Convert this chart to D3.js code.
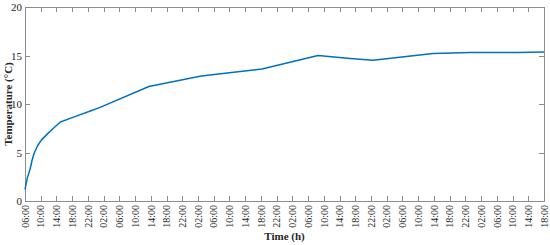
<!DOCTYPE html>
<html>
<head>
<meta charset="utf-8">
<script src="https://cdn.jsdelivr.net/npm/d3@7"></script>
<style>
  html, body { margin: 0; padding: 0; background: #fff; }
  svg { display: block; }
  .axis path, .axis line { stroke: #8c8c8c; shape-rendering: crispEdges; }
  .axis text { font-family: "Liberation Serif", "Times New Roman", serif; fill: #262626; }
</style>
</head>
<body>
<svg id="chart" width="550" height="245"></svg>
<script>
// Elapsed time (hours since 06:00 on day 1) and temperature (°C)
const hours = [0, 0.3, 0.6, 1.0, 1.3, 1.8, 2.3, 3.2, 4.2, 5.9, 7.5, 9.0, 12.7, 16.8, 19.1, 31.5, 44.5, 47, 60.3, 74.5, 82.7, 88.5, 103.8, 113.2, 125.1, 132];
const temps = [1.2, 1.8, 2.4, 2.9, 3.3, 4.2, 4.9, 5.7, 6.3, 7.0, 7.6, 8.15, 8.7, 9.3, 9.65, 11.8, 12.85, 13.0, 13.6, 15.0, 14.7, 14.5, 15.2, 15.3, 15.3, 15.35];

const xTickHours = d3.range(0, 133, 4);
const xTickLabels = ["06:00","10:00","14:00","18:00","22:00","02:00","06:00","10:00","14:00","18:00","22:00","02:00","06:00","10:00","14:00","18:00","22:00","02:00","06:00","10:00","14:00","18:00","22:00","02:00","06:00","10:00","14:00","18:00","22:00","02:00","06:00","10:00","14:00","18:00"];
const yTicks = [0, 5, 10, 15, 20];

const svg = d3.select("#chart");
const m = { left: 25, right: 544, top: 7, bottom: 201 };

const x = d3.scaleLinear().domain([0, 132]).range([m.left, m.right]);
const y = d3.scaleLinear().domain([0, 20]).range([m.bottom, m.top]);

// Box frame
svg.append("rect")
  .attr("x", m.left).attr("y", m.top)
  .attr("width", m.right - m.left).attr("height", m.bottom - m.top)
  .attr("fill", "none").attr("stroke", "#8c8c8c").attr("shape-rendering", "crispEdges");

// Bottom axis
const gx = svg.append("g").attr("class", "axis")
  .attr("transform", `translate(0,${m.bottom})`)
  .call(d3.axisBottom(x).tickValues(xTickHours).tickSizeInner(-5).tickSizeOuter(0).tickPadding(4)
    .tickFormat((d, i) => xTickLabels[i]));
gx.selectAll("text")
  .attr("font-size", 10)
  .attr("transform", "rotate(-90)")
  .attr("text-anchor", "end")
  .attr("dy", "0.32em")
  .attr("x", -4)
  .attr("y", 0);

// Top axis (ticks only)
svg.append("g").attr("class", "axis")
  .attr("transform", `translate(0,${m.top})`)
  .call(d3.axisTop(x).tickValues(xTickHours).tickSizeInner(-5).tickSizeOuter(0).tickFormat(""));

// Left axis
const gy = svg.append("g").attr("class", "axis")
  .attr("transform", `translate(${m.left},0)`)
  .call(d3.axisLeft(y).tickValues(yTicks).tickSizeInner(-5).tickSizeOuter(0).tickPadding(3));
gy.selectAll("text").attr("font-size", 11);

// Right axis (ticks only)
svg.append("g").attr("class", "axis")
  .attr("transform", `translate(${m.right},0)`)
  .call(d3.axisRight(y).tickValues(yTicks).tickSizeInner(-5).tickSizeOuter(0).tickFormat(""));

svg.selectAll(".axis .domain").attr("stroke", "#8c8c8c");

// Line
const data = hours.map((h, i) => ({ h, t: temps[i] }));
svg.append("path")
  .datum(data)
  .attr("fill", "none")
  .attr("stroke", "#0072BD")
  .attr("stroke-width", 1.5)
  .attr("stroke-linejoin", "round")
  .attr("d", d3.line().x(d => x(d.h)).y(d => y(d.t)));

// Axis titles
svg.append("text")
  .attr("x", (m.left + m.right) / 2).attr("y", 240)
  .attr("text-anchor", "middle")
  .attr("font-family", "'Liberation Serif', 'Times New Roman', serif")
  .attr("font-weight", "bold").attr("font-size", 11).attr("fill", "#262626")
  .text("Time (h)");

svg.append("text")
  .attr("transform", `translate(12,${(m.top + m.bottom) / 2}) rotate(-90)`)
  .attr("text-anchor", "middle")
  .attr("font-family", "'Liberation Serif', 'Times New Roman', serif")
  .attr("font-weight", "bold").attr("font-size", 11).attr("fill", "#262626")
  .text("Temperature (°C)");
</script>
</body>
</html>
